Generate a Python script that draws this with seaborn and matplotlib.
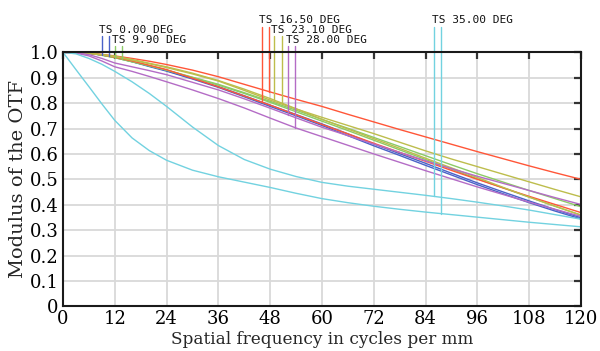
import numpy as np
import pandas as pd
import matplotlib
matplotlib.use("Agg")
import matplotlib.pyplot as plt
import seaborn as sns

# ---------------- data ----------------
freq = [0, 3, 6, 9, 12, 16, 20, 24, 30, 36, 42, 48, 54, 60, 66, 72, 78, 84, 90, 96, 102, 108, 114, 120]

mtf_00_t = [1.0, 0.999, 0.996, 0.990, 0.981, 0.964, 0.946, 0.928, 0.897, 0.865, 0.829, 0.792, 0.755, 0.718,
            0.679, 0.639, 0.601, 0.563, 0.524, 0.486, 0.450, 0.415, 0.381, 0.349]
mtf_00_s = [1.0, 0.999, 0.996, 0.989, 0.980, 0.963, 0.944, 0.926, 0.895, 0.862, 0.825, 0.787, 0.750, 0.712,
            0.672, 0.632, 0.594, 0.555, 0.517, 0.479, 0.443, 0.408, 0.375, 0.344]
mtf_99_t = [1.0, 0.999, 0.997, 0.989, 0.979, 0.963, 0.947, 0.930, 0.902, 0.874, 0.841, 0.807, 0.772, 0.736,
            0.701, 0.665, 0.629, 0.593, 0.557, 0.522, 0.489, 0.456, 0.424, 0.392]
mtf_99_s = [1.0, 0.999, 0.997, 0.989, 0.979, 0.963, 0.947, 0.930, 0.901, 0.871, 0.838, 0.803, 0.766, 0.729,
            0.692, 0.654, 0.616, 0.578, 0.540, 0.502, 0.466, 0.430, 0.394, 0.359]
mtf_165_t = [1.0, 0.999, 0.997, 0.990, 0.981, 0.966, 0.949, 0.932, 0.898, 0.864, 0.828, 0.792, 0.754, 0.716,
             0.679, 0.642, 0.606, 0.571, 0.535, 0.500, 0.466, 0.433, 0.401, 0.369]
mtf_165_s = [1.0, 0.999, 0.997, 0.992, 0.986, 0.976, 0.965, 0.952, 0.930, 0.904, 0.874, 0.844, 0.815, 0.787,
             0.756, 0.726, 0.696, 0.667, 0.638, 0.609, 0.581, 0.553, 0.526, 0.500]
mtf_231_t = [1.0, 0.999, 0.996, 0.990, 0.983, 0.969, 0.955, 0.940, 0.915, 0.887, 0.850, 0.812, 0.777, 0.744,
             0.712, 0.680, 0.646, 0.612, 0.580, 0.550, 0.520, 0.490, 0.460, 0.431]
mtf_231_s = [1.0, 0.999, 0.997, 0.991, 0.985, 0.972, 0.957, 0.943, 0.918, 0.889, 0.855, 0.818, 0.778, 0.736,
             0.698, 0.660, 0.622, 0.583, 0.545, 0.507, 0.468, 0.430, 0.394, 0.359]
mtf_280_t = [1.0, 0.998, 0.991, 0.976, 0.958, 0.943, 0.928, 0.912, 0.882, 0.852, 0.817, 0.780, 0.742, 0.705,
             0.672, 0.639, 0.606, 0.573, 0.542, 0.512, 0.484, 0.456, 0.428, 0.401]
mtf_280_s = [1.0, 0.997, 0.986, 0.966, 0.943, 0.925, 0.905, 0.884, 0.852, 0.818, 0.781, 0.741, 0.702, 0.668,
             0.634, 0.600, 0.567, 0.534, 0.502, 0.470, 0.440, 0.410, 0.382, 0.354]
mtf_350_t = [1.0, 0.994, 0.976, 0.953, 0.925, 0.884, 0.838, 0.787, 0.706, 0.633, 0.578, 0.540, 0.511, 0.488,
             0.473, 0.461, 0.449, 0.437, 0.424, 0.410, 0.395, 0.379, 0.361, 0.343]
mtf_350_s = [1.0, 0.932, 0.865, 0.797, 0.732, 0.663, 0.613, 0.575, 0.536, 0.510, 0.489, 0.468, 0.445, 0.424,
             0.408, 0.394, 0.382, 0.371, 0.361, 0.351, 0.341, 0.331, 0.322, 0.313]

curve_names = ["0.00 T", "0.00 S", "9.90 T", "9.90 S", "16.50 T", "16.50 S",
               "23.10 T", "23.10 S", "28.00 T", "28.00 S", "35.00 T", "35.00 S"]
curve_values = [mtf_00_t, mtf_00_s, mtf_99_t, mtf_99_s, mtf_165_t, mtf_165_s,
                mtf_231_t, mtf_231_s, mtf_280_t, mtf_280_s, mtf_350_t, mtf_350_s]

field_labels = ["TS 0.00 DEG", "TS 9.90 DEG", "TS 16.50 DEG",
                "TS 23.10 DEG", "TS 28.00 DEG", "TS 35.00 DEG"]
# frequencies where the field marker lines are drawn
marker_freqs = [(8.96, 10.66), (12.05, 13.67), (46.0, 47.7),
                (48.9, 50.7), (52.2, 53.7), (86.0, 87.6)]
marker_curves = [("0.00 T", "0.00 S"), ("9.90 T", "9.90 S"), ("16.50 T", "16.50 S"),
                 ("23.10 T", "23.10 S"), ("28.00 T", "28.00 S"), ("35.00 T", "35.00 S")]

x_ticks = [0, 12, 24, 36, 48, 60, 72, 84, 96, 108, 120]
y_ticks = [0, 0.1, 0.2, 0.3, 0.4, 0.5, 0.6, 0.7, 0.8, 0.9, 1.0]
y_ticklabels = ["0", "0.1", "0.2", "0.3", "0.4", "0.5", "0.6", "0.7", "0.8", "0.9", "1.0"]

# ---------------- style ----------------
field_colors = ["#4a62c8", "#8ccb66", "#ff5638", "#bdbd4c", "#b46cc6", "#72d2e0"]
palette = {}
for i, c in enumerate(field_colors):
    palette[curve_names[2 * i]] = c
    palette[curve_names[2 * i + 1]] = c

sns.set_theme(style="white")
plt.rcParams["font.family"] = ["DejaVu Serif"]

rows = []
for name, vals in zip(curve_names, curve_values):
    for f, v in zip(freq, vals):
        rows.append({"freq": f, "mtf": v, "curve": name})
df = pd.DataFrame(rows)

fig = plt.figure(figsize=(6.0, 3.51), dpi=100)
ax = fig.add_axes([0.105, 0.1273, 0.8633, 0.7236])

sns.lineplot(data=df, x="freq", y="mtf", hue="curve", hue_order=curve_names,
             palette=palette, estimator=None, sort=False, legend=False,
             linewidth=1.0, ax=ax)

ax.set_xlim(0, 120)
ax.set_ylim(0, 1.0)
ax.set_xticks(x_ticks)
ax.set_xticklabels([str(t) for t in x_ticks])
ax.set_yticks(y_ticks)
ax.set_yticklabels(y_ticklabels)
ax.grid(True, color="#d9d9d9", linewidth=1.3)
ax.set_axisbelow(True)
for s in ax.spines.values():
    s.set_color("#1a1a1a")
    s.set_linewidth(1.5)
ax.tick_params(axis="both", direction="in", length=5, width=1.6, color="#333333",
               top=True, right=True, labelsize=13, labelcolor="black")
ax.tick_params(axis="y", pad=3)
ax.tick_params(axis="x", pad=3)
ax.set_xlabel("Spatial frequency in cycles per mm", fontsize=12.2, labelpad=2)
ax.set_ylabel("Modulus of the OTF", fontsize=14, labelpad=2)

# field markers and labels
label_row_y = {0: 1.115, 1: 1.076, 2: 1.037}
marker_top = {0: 1.100, 1: 1.064, 2: 1.025}
field_rows = [1, 2, 0, 1, 2, 0]
curve_lookup = dict(zip(curve_names, curve_values))
for i, lab in enumerate(field_labels):
    row = field_rows[i]
    for f, cname in zip(marker_freqs[i], marker_curves[i]):
        yend = float(np.interp(f, freq, curve_lookup[cname]))
        ax.plot([f, f], [yend, marker_top[row]], color=field_colors[i],
                linewidth=1.0, clip_on=False)
    ax.text(marker_freqs[i][0] - 0.6, label_row_y[row], lab,
            fontsize=8, family="DejaVu Sans Mono", color="#111111",
            ha="left", va="baseline", clip_on=False)

fig.savefig("out.png", dpi=100)
